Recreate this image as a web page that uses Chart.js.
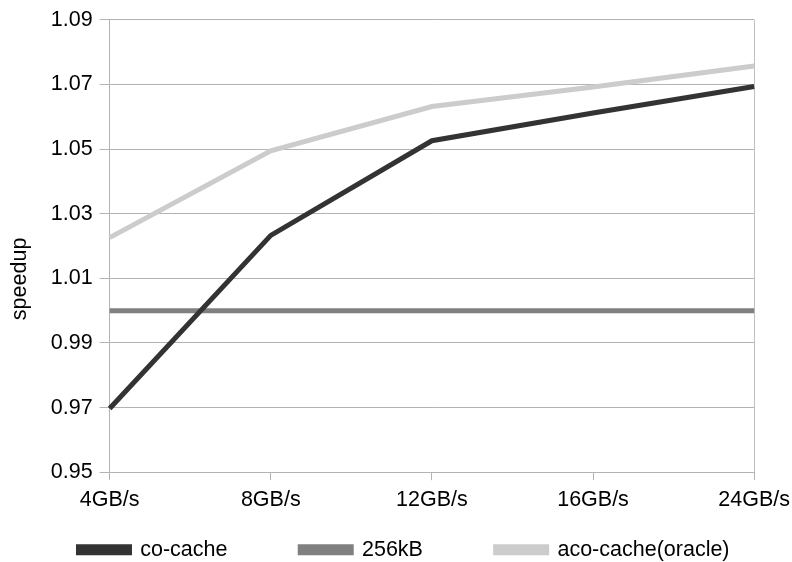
<!DOCTYPE html>
<html>
<head>
<meta charset="utf-8">
<script src="https://cdn.jsdelivr.net/npm/chart.js@4/dist/chart.umd.min.js"></script>
<style>
html,body{margin:0;padding:0;background:#fff;}
#wrap{width:792px;height:562px;}
</style>
</head>
<body>
<div id="wrap"><canvas id="c" width="792" height="562"></canvas></div>
<script>
const categories = ["4GB/s", "8GB/s", "12GB/s", "16GB/s", "24GB/s"];
const coCache = [0.9697, 1.0233, 1.0526, 1.0612, 1.0694];
const kB256 = [1.0, 1.0, 1.0, 1.0, 1.0];
const acoCache = [1.0226, 1.0495, 1.0632, 1.0692, 1.0757];
const yTicks = [0.95, 0.97, 0.99, 1.01, 1.03, 1.05, 1.07, 1.09];
const seriesNames = ["co-cache", "256kB", "aco-cache(oracle)"];
const seriesColors = ["#333333", "#808080", "#cccccc"];

const font = "'Liberation Sans', Arial, sans-serif";
const fs = 21.5;
const seriesData = [coCache, kB256, acoCache];

new Chart(document.getElementById('c'), {
  type: 'line',
  data: {
    labels: categories,
    datasets: seriesData.map((d, i) => ({
      label: seriesNames[i],
      data: d,
      borderColor: seriesColors[i],
      backgroundColor: seriesColors[i],
      borderWidth: 5,
      pointRadius: 0,
      tension: 0,
      borderCapStyle: 'butt',
      borderJoinStyle: 'miter'
    }))
  },
  options: {
    responsive: false,
    animation: false,
    devicePixelRatio: 1,
    layout: { padding: { top: 4, right: 0, left: 16, bottom: 0 } },
    plugins: {
      legend: {
        position: 'bottom',
        maxHeight: 42,
        labels: {
          font: { family: font, size: fs },
          color: '#000',
          boxWidth: 51,
          boxHeight: 6,
          padding: 19,
          generateLabels: chart => {
            const items = Chart.defaults.plugins.legend.labels.generateLabels(chart);
            items.forEach((it, i) => { if (i < items.length - 1) it.text = it.text + '         '; });
            return items;
          }
        }
      },
      tooltip: { enabled: false }
    },
    scales: {
      x: {
        offset: false,
        afterFit: axis => { axis.paddingRight = Math.max(0, axis.paddingRight - 5); },
        grid: {
          color: ctx => ctx.index === categories.length - 1 ? '#c0c0c0' : 'rgba(0,0,0,0)',
          tickColor: '#b3b3b3',
          tickLength: 8,
          lineWidth: 1
        },
        border: { color: '#b3b3b3' },
        ticks: { font: { family: font, size: fs }, color: '#000', padding: 7, maxRotation: 0 }
      },
      y: {
        min: 0.95,
        max: 1.09,
        afterBuildTicks: axis => { axis.ticks = yTicks.map(v => ({ value: v })); },
        grid: { color: '#b3b3b3', tickColor: '#b3b3b3', tickLength: 10 },
        border: { color: '#b3b3b3' },
        ticks: {
          font: { family: font, size: fs },
          color: '#000',
          padding: 7,
          callback: v => v.toFixed(2)
        },
        title: {
          display: true,
          text: 'speedup           ',
          font: { family: font, size: fs },
          color: '#000',
          padding: { top: -9, bottom: 11 }
        }
      }
    }
  }
});
</script>
</body>
</html>
